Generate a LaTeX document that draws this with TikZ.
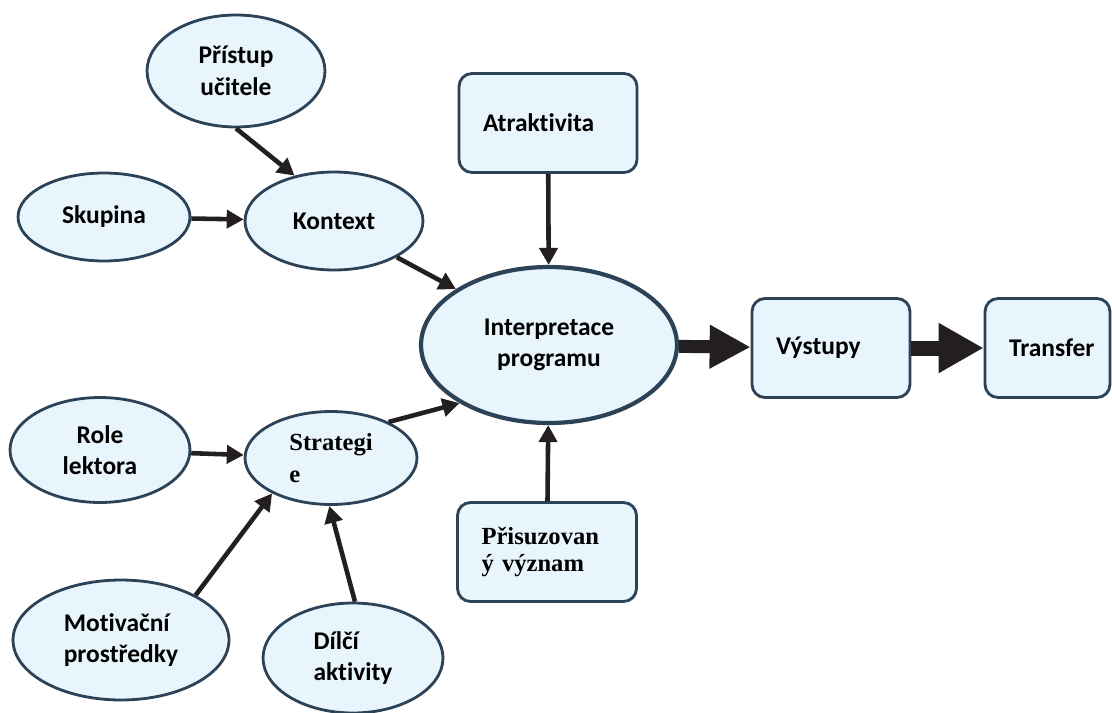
\documentclass[tikz,border=0pt]{standalone}
\usepackage{fontspec}
\setmainfont{Carlito}[Ligatures=NoCommon]
\newfontfamily\patkove{Liberation Serif}
\usetikzlibrary{shapes.geometric,arrows.meta}

\definecolor{okraj}{HTML}{2C4257}
\definecolor{vypln}{HTML}{E9F5FC}
\definecolor{cerna}{HTML}{231F20}

\begin{document}
\begin{tikzpicture}[x=0.02cm, y=-0.02cm]
	\tikzset{uzel/.style={ellipse, draw=okraj, fill=vypln, line width=1.6pt, inner sep=0pt, align=center,
		font=\bfseries\fontsize{14.5}{18}\selectfont},
		ramec/.style={rectangle, rounded corners=0.26cm, draw=okraj, fill=vypln, line width=1.6pt,
		inner ysep=0pt, inner xsep=0.48cm, align=left, minimum height=1.98cm,
		font=\bfseries\fontsize{14.5}{18}\selectfont},
		sipka/.style={line width=2.6pt, draw=cerna, -{Triangle[length=0.34cm, width=0.36cm]}},
		tlusta/.style={draw=cerna, -{Triangle[length=0.82cm, width=0.82cm]}}};

	\useasboundingbox (0,0) rectangle (1112,713);

	% vstupy do kontextu a strategie
	\node[uzel, minimum width=3.56cm, minimum height=2.24cm] (pristup) at (236,71) {Přístup\\učitele};
	\node[uzel, minimum width=3.44cm, minimum height=1.76cm] (skupina) at (104,217) {Skupina};
	\node[uzel, minimum width=3.56cm, minimum height=1.96cm] (kontext) at (334,221) {Kontext};
	\node[uzel, minimum width=3.6cm, minimum height=2.1cm] (role) at (100,450) {Role\\lektora};
	\node[uzel, minimum width=3.44cm, minimum height=1.86cm, align=left,
		font=\patkove\bfseries\fontsize{14}{18}\selectfont] (strategie) at (331,458) {Strategi\\e};
	\node[uzel, minimum width=4.32cm, minimum height=2.4cm, align=left] (motivacni) at (121,640) {Motivační\\prostředky};
	\node[uzel, minimum width=3.6cm, minimum height=2.2cm, align=left] (dilci) at (353,658) {Dílčí\\aktivity};

	% stred
	\node[uzel, line width=2.4pt, minimum width=5.12cm, minimum height=3.12cm] (interpretace) at (549,345) {Interpretace\\programu};
	\node[ramec, text width=2.6cm] (atraktivita) at (548,123) {Atraktivita};
	\node[ramec, text width=2.62cm, font=\patkove\bfseries\fontsize{14}{15}\selectfont] (prisuzovany) at (547,552) {Přisuzovan\\ý význam};
	\node[ramec, text width=2.2cm] (vystupy) at (831,348) {Výstupy};
	\node[ramec, text width=1.54cm] (transfer) at (1047.5,348) {Transfer};

	\draw[sipka] (pristup.-90) -- (kontext.131);
	\draw[sipka] (skupina) -- (kontext);
	\draw[sipka] (kontext.-30) -- (interpretace.149);
	\draw[sipka] (role) -- (strategie);
	\draw[sipka] (motivacni.31) -- (strategie.211);
	\draw[sipka] (dilci.88) -- (strategie.268);
	\draw[sipka] (strategie.32) -- (interpretace.213);
	\draw[sipka] (atraktivita) -- (interpretace);
	\draw[sipka] (prisuzovany) -- (interpretace);

	\draw[tlusta, line width=0.26cm] (interpretace) -- (vystupy);
	\draw[tlusta, line width=0.3cm, -{Triangle[length=0.9cm, width=0.94cm]}] (vystupy) -- (transfer);

\end{tikzpicture}
\end{document}
